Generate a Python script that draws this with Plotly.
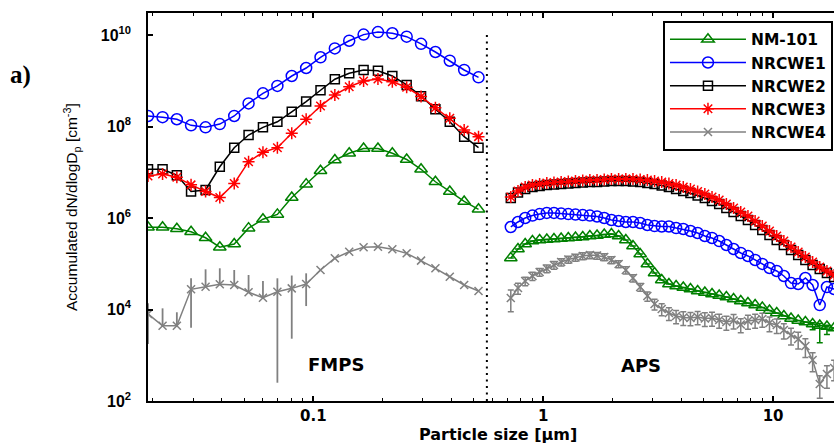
import numpy as np
import plotly.graph_objects as go

# ---- particle size channels (um) ----
fmps_size = [0.0191, 0.0221, 0.0255, 0.0294, 0.0340, 0.0392, 0.0453, 0.0523,
             0.0604, 0.0698, 0.0806, 0.0931, 0.1075, 0.1241, 0.1433, 0.1655,
             0.1911, 0.2207, 0.2548, 0.2943, 0.3398, 0.3924, 0.4532, 0.5233]

aps_size = [0.723, 0.777, 0.835, 0.898, 0.965, 1.037, 1.114, 1.197, 1.286, 1.382,
            1.486, 1.596, 1.715, 1.843, 1.981, 2.129, 2.288, 2.458, 2.642, 2.839,
            3.051, 3.278, 3.523, 3.786, 4.068, 4.371, 4.698, 5.048, 5.425, 5.829,
            6.264, 6.732, 7.234, 7.774, 8.354, 8.977, 9.647, 10.37, 11.14, 11.97,
            12.86, 13.82, 14.86, 15.96, 17.15, 18.43]

# ---- accumulated dN/dlogDp (cm^-3), FMPS ----
nm101_fmps = [6.3e5, 6.3e5, 5.8e5, 5.0e5, 3.7e5, 2.3e5, 2.7e5, 6.0e5, 9.4e5, 1.2e6,
              2.8e6, 5.5e6, 1.08e7, 1.85e7, 2.6e7, 3.3e7, 3.3e7, 2.6e7, 1.9e7, 1.16e7,
              6.2e6, 3.8e6, 2.3e6, 1.55e6]
nrcwe1_fmps = [1.7e8, 1.6e8, 1.44e8, 1.06e8, 9.6e7, 1.13e8, 1.7e8, 3.2e8, 5.3e8, 7.7e8,
               1.27e9, 1.9e9, 3.26e9, 5.1e9, 7.5e9, 1.02e10, 1.16e10, 1.09e10, 9.2e9,
               6.4e9, 4.25e9, 2.74e9, 1.72e9, 1.19e9]
nrcwe2_fmps = [1.16e7, 1.16e7, 8.6e6, 3.8e6, 4.1e6, 1.32e7, 3.44e7, 6.5e7, 9.6e7, 1.27e8,
               2.1e8, 3.5e8, 6.2e8, 1.08e9, 1.46e9, 1.72e9, 1.66e9, 1.27e9, 8.1e8, 4.6e8,
               2.38e8, 1.27e8, 6.0e7, 3.44e7]
nrcwe3_fmps = [8.3e6, 9.2e6, 7.8e6, 5.3e6, 3.8e6, 2.8e6, 5.7e6, 1.7e7, 2.73e7, 3.44e7,
               7.1e7, 1.44e8, 2.8e8, 4.9e8, 7.4e8, 9.9e8, 1.09e9, 9.5e8, 7.2e8, 4.5e8,
               2.58e8, 1.51e8, 8.4e7, 6.0e7]
nrcwe4_fmps = [8.0e3, 4.4e3, 4.4e3, 2.76e4, 3.15e4, 3.56e4, 3.43e4, 2.38e4, 1.81e4, 2.45e4,
               2.9e4, 3.6e4, 7.3e4, 1.32e5, 1.83e5, 2.29e5, 2.36e5, 2.07e5, 1.69e5, 1.17e5,
               7.96e4, 5.2e4, 3.43e4, 2.54e4]
# error-bar ends for NRCWE4 (FMPS); None = no bar on that side
nrcwe4_fmps_hi = [1.37e4, 1.06e4, 8.7e3, 4.81e4, 7.56e4, 7.96e4, 7.3e4, 5.68e4, 4.2e4, 4.81e4,
                  5.53e4, 6.18e4] + [None] * 12
nrcwe4_fmps_lo = [1.76e3, None, None, 4.0e3, None, None, None, None, None, 251,
                  2.3e3, 1.19e4] + [None] * 12

# ---- accumulated dN/dlogDp (cm^-3), APS ----
nm101_aps = [1.34e5, 2.1e5, 2.7e5, 3.14e5, 3.3e5, 3.39e5, 3.48e5, 3.56e5, 3.66e5, 3.75e5,
             3.84e5, 4.04e5, 4.14e5, 4.36e5, 4.47e5, 4.04e5, 3.3e5, 2.44e5, 1.63e5, 9.9e4,
             6.28e4, 4.41e4, 3.61e4, 3.26e4, 3.03e4, 2.81e4, 2.54e4, 2.35e4, 2.18e4, 2.02e4,
             1.88e4, 1.7e4, 1.53e4, 1.39e4, 1.25e4, 1.11e4, 9.5e3, 8.38e3, 7.21e3, 6.36e3,
             5.75e3, 5.33e3, 4.82e3, 4.47e3, 4.25e3, 3.94e3]
nm101_aps_err_up = [0] * 42 + [300, 500, 300, 0]
nm101_aps_err_dn = [0] * 42 + [1.2e3, 2.6e3, 1.4e3, 0]
nrcwe1_aps = [6.36e5, 8.18e5, 1.0e6, 1.13e6, 1.22e6, 1.29e6, 1.29e6, 1.25e6, 1.22e6, 1.19e6,
              1.16e6, 1.13e6, 1.08e6, 1.0e6, 9.04e5, 8.6e5, 8.18e5, 8.18e5, 7.78e5, 7.03e5,
              6.68e5, 6.52e5, 6.52e5, 6.04e5, 5.75e5, 5.2e5, 4.7e5, 4.04e5, 3.66e5, 3.14e5,
              2.57e5, 2.1e5, 1.72e5, 1.48e5, 1.21e5, 9.9e4, 8.07e4, 6.95e4, 5.4e4, 3.79e4,
              3.61e4, 4.88e4, 3.43e4, 1.25e4, 3.1e4, 2.81e4]
nrcwe2_aps = [2.74e6, 3.61e6, 4.3e6, 4.76e6, 5.0e6, 5.26e6, 5.4e6, 5.53e6, 5.68e6, 5.82e6,
              5.97e6, 6.12e6, 6.12e6, 6.28e6, 6.44e6, 6.44e6, 6.44e6, 6.28e6, 6.12e6, 5.82e6,
              5.53e6, 5.13e6, 4.76e6, 4.3e6, 3.89e6, 3.52e6, 3.1e6, 2.74e6, 2.35e6, 2.02e6,
              1.66e6, 1.35e6, 1.11e6, 9.0e5, 7.03e5, 5.47e5, 4.25e5, 3.3e5, 2.57e5, 2.0e5,
              1.55e5, 1.21e5, 9.4e4, 7.67e4, 6.28e4, 5.13e4]
nrcwe3_aps = [2.88e6, 3.89e6, 4.76e6, 5.26e6, 5.53e6, 5.82e6, 5.97e6, 6.12e6, 6.28e6, 6.44e6,
              6.61e6, 6.77e6, 6.77e6, 6.95e6, 7.12e6, 7.12e6, 7.12e6, 7.12e6, 6.95e6, 6.77e6,
              6.44e6, 6.12e6, 5.68e6, 5.26e6, 4.76e6, 4.3e6, 3.79e6, 3.35e6, 2.88e6, 2.47e6,
              2.02e6, 1.66e6, 1.35e6, 1.11e6, 8.6e5, 6.68e5, 5.2e5, 4.04e5, 3.14e5, 2.32e5,
              1.81e5, 1.41e5, 1.09e5, 8.5e4, 6.95e4, 5.68e4]
nrcwe4_aps = [1.78e4, 2.95e4, 4.2e4, 5.4e4, 6.6e4, 7.87e4, 9.4e4, 1.09e5, 1.24e5, 1.37e5,
              1.48e5, 1.55e5, 1.51e5, 1.41e5, 1.21e5, 9.9e4, 7.3e4, 4.88e4, 3.1e4, 1.97e4,
              1.32e4, 1.03e4, 8.38e3, 7.21e3, 6.68e3, 6.52e3, 6.86e3, 6.36e3, 6.52e3, 5.89e3,
              5.33e3, 5.75e3, 4.7e3, 5.61e3, 5.89e3, 6.2e3, 5.07e3, 4.58e3, 3.56e3, 2.77e3,
              2.27e3, 1.59e3, 787, 235, 389, 526]
nrcwe4_aps_err = [8.9e3, 8e3, 9e3, 1.1e4, 1.3e4, 1.5e4, 1.8e4, 2.0e4, 2.2e4, 2.4e4,
                  2.5e4, 2.6e4, 2.5e4, 2.4e4, 2.1e4, 1.7e4, 1.3e4, 9e3, 6e3, 4.5e3,
                  3.5e3, 3e3, 2.6e3, 2.3e3, 2.2e3, 2.1e3, 2.2e3, 2.1e3, 2.2e3, 2.0e3,
                  1.8e3, 2.0e3, 1.6e3, 1.9e3, 2.0e3, 2.1e3, 1.8e3, 1.6e3, 1.3e3, 1.1e3,
                  900, 700, 350, 120, 200, 250]

instrument_boundary = 0.569   # FMPS / APS split (um)

x_ticks = [0.1, 1, 10]
x_ticktext = ["0.1", "1", "10"]
x_minor = [m * d for d in (0.01, 0.1, 1) for m in range(2, 10)]
y_ticks = [1e2, 1e4, 1e6, 1e8, 1e10]
y_ticktext = ["10<sup>2</sup>", "10<sup>4</sup>", "10<sup>6</sup>", "10<sup>8</sup>", "10<sup>10</sup>"]

GREEN = "rgb(0,128,0)"
BLUE = "rgb(0,0,255)"
BLACK = "rgb(0,0,0)"
RED = "rgb(255,0,0)"
GRAY = "rgb(128,128,128)"

BOLD = dict(family="DejaVu Sans", weight="bold", color="black")

series = [
    ("NM-101", nm101_fmps, nm101_aps, GREEN, "triangle-up-open", 11),
    ("NRCWE1", nrcwe1_fmps, nrcwe1_aps, BLUE, "circle-open", 11),
    ("NRCWE2", nrcwe2_fmps, nrcwe2_aps, BLACK, "square-open", 9),
    ("NRCWE3", nrcwe3_fmps, nrcwe3_aps, RED, "asterisk-open", 10),
    ("NRCWE4", nrcwe4_fmps, nrcwe4_aps, GRAY, "x-thin-open", 8),
]

fig = go.Figure()

for name, y_f, y_a, color, symbol, size in series:
    marker = dict(symbol=symbol, size=size, color=color, line=dict(color=color, width=1.5))
    line = dict(color=color, width=1.5)

    err_f = None
    err_a = None
    if name == "NRCWE4":
        up = [(h - y) if h is not None else 0 for h, y in zip(nrcwe4_fmps_hi, y_f)]
        dn = [(y - l) if l is not None else 0 for l, y in zip(nrcwe4_fmps_lo, y_f)]
        err_f = dict(type="data", symmetric=False, array=up, arrayminus=dn,
                     color=color, thickness=1.8, width=0)
        err_a = dict(type="data", array=nrcwe4_aps_err, color=color, thickness=1.5, width=3)
    if name == "NM-101":
        err_a = dict(type="data", symmetric=False, array=nm101_aps_err_up,
                     arrayminus=nm101_aps_err_dn, color=color, thickness=1.5, width=3)

    fig.add_trace(go.Scatter(x=fmps_size, y=y_f, mode="lines+markers", name=name,
                             legendgroup=name, line=line, marker=marker, error_y=err_f))
    fig.add_trace(go.Scatter(x=aps_size, y=y_a, mode="lines+markers", name=name,
                             legendgroup=name, showlegend=False, line=line, marker=marker,
                             error_y=err_a))

# dotted separator between the two instruments
fig.add_trace(go.Scatter(x=[instrument_boundary, instrument_boundary], y=[1e2, 1.1e10],
                         mode="lines", showlegend=False, hoverinfo="skip",
                         line=dict(color="black", width=2, dash="2px,4.5px")))

# empty trace so the mirrored top axis is drawn
fig.add_trace(go.Scatter(x=[], y=[], xaxis="x2", showlegend=False))

x_range = [np.log10(0.0191), 1.265]
axis_common = dict(showline=True, linecolor="black", linewidth=1.5, showgrid=False,
                   zeroline=False, ticks="inside", tickcolor="black", tickwidth=1.5)

fig.update_layout(
    width=834, height=444,
    margin=dict(l=148, r=0, t=13, b=43),
    paper_bgcolor="white", plot_bgcolor="white",
    xaxis=dict(type="log", range=x_range, domain=[0, 1], ticklen=5,
               tickvals=x_ticks, ticktext=x_ticktext,
               tickfont=dict(size=15, **BOLD), ticklabelstandoff=0,
               minor=dict(tickvals=x_minor, ticks="inside", ticklen=3, tickwidth=1.2,
                          tickcolor="black", showgrid=False),
               **axis_common),
    xaxis2=dict(type="log", range=x_range, overlaying="x", side="top", anchor="y",
                ticklen=5, tickvals=x_ticks, showticklabels=False,
                minor=dict(tickvals=x_minor, ticks="inside", ticklen=3, tickwidth=1.2,
                           tickcolor="black", showgrid=False),
                **axis_common),
    yaxis=dict(type="log", range=[2, 10.481], ticklen=5,
               tickvals=y_ticks, ticktext=y_ticktext,
               tickfont=dict(family="Liberation Sans", size=16, weight="bold", color="black"),
               ticklabelstandoff=12,
               **axis_common),
    legend=dict(x=0.9985, y=0.98, xanchor="right", yanchor="top",
                bgcolor="white", bordercolor="black", borderwidth=2,
                font=dict(size=15.5, **BOLD), itemwidth=76, tracegroupgap=0),
    showlegend=True,
)

annotations = [
    dict(text="a)", x=-0.1862, y=0.84, xref="paper", yref="paper", showarrow=False,
         xanchor="center", yanchor="middle",
         font=dict(family="Liberation Serif", size=25, weight="bold", color="black")),
    dict(text="Accumulated dN/dlogD<sub>p</sub> [cm<sup>-3</sup>]", x=-0.1108, y=0.5,
         xref="paper", yref="paper", showarrow=False, textangle=-90,
         xanchor="center", yanchor="middle",
         font=dict(family="Liberation Sans", size=15.5, color="black")),
    dict(text="Particle size [\u00b5m]", x=0.51, y=-0.0865, xref="paper", yref="paper",
         showarrow=False, xanchor="center", yanchor="middle", font=dict(size=16, **BOLD)),
    dict(text="FMPS", x=0.274, y=0.0928, xref="paper", yref="paper", showarrow=False,
         xanchor="center", yanchor="middle", font=dict(size=18, **BOLD)),
    dict(text="APS", x=0.7187, y=0.0915, xref="paper", yref="paper", showarrow=False,
         xanchor="center", yanchor="middle", font=dict(size=18, **BOLD)),
]
fig.update_layout(annotations=annotations)

fig.write_html("out.html")
